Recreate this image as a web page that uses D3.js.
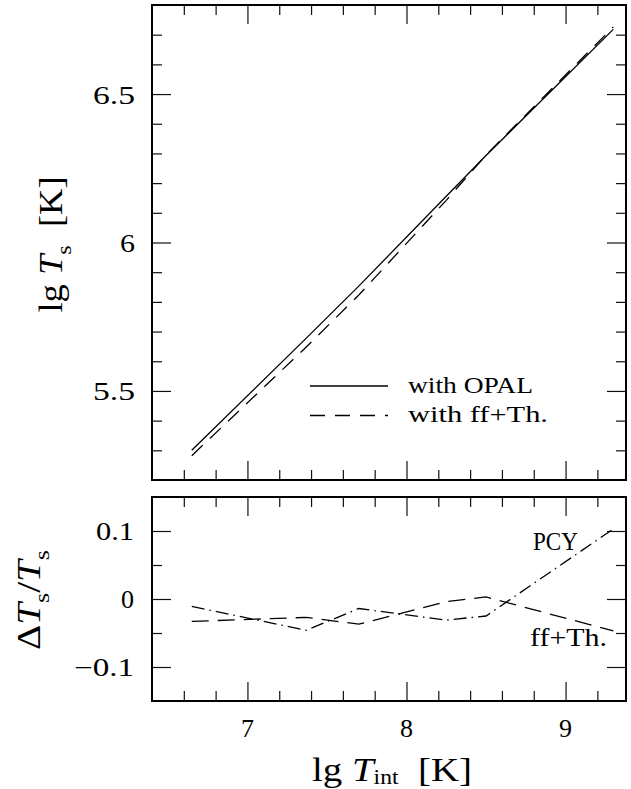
<!DOCTYPE html>
<html>
<head>
<meta charset="utf-8">
<script src="https://cdn.jsdelivr.net/npm/d3@7"></script>
<style>
  body { margin: 0; background: #fff; }
  svg { display: block; }
  text { font-family: "Liberation Serif", "Times New Roman", serif; fill: #000; }
</style>
</head>
<body>
<svg id="chart" width="631" height="789"></svg>
<script>
// lg T_int grid shared by all curves
const lgTint = [6.65, 7.37, 7.7, 8.25, 8.5, 9.3];
// surface temperature, lg T_s [K]
const lgTsOPAL = [5.300, 5.678, 5.853, 6.156, 6.293, 6.718];
const lgTsFfTh = [5.282, 5.648, 5.823, 6.142, 6.295, 6.726];
// relative deviations Delta T_s / T_s
const relPCY  = [-0.011, -0.046, -0.014, -0.031, -0.025, 0.103];
const relFfTh = [-0.033, -0.027, -0.037, -0.004, 0.003, -0.047];

// axis ticks and labels
const xMajor = [7, 8, 9];
const xMinor = d3.range(33, 47).map(i => i / 5).filter(v => !Number.isInteger(v));
const xTickLabels = ["7", "8", "9"];
const topMajor = [5.5, 6, 6.5];
const topMinor = d3.range(53, 68).filter(i => i % 5 !== 0).map(i => i / 10);
const topTickLabels = ["5.5", "6", "6.5"];
const botMajor = [-0.1, 0, 0.1];
const botMinor = [-0.05, 0.05];
const botTickLabels = ["\u22120.1", "0", "0.1"];

const svg = d3.select("#chart");

const x = d3.scaleLinear().domain([6.4, 9.38]).range([152, 626]);
const yTop = d3.scaleLinear().domain([5.2, 6.8]).range([480, 5]);
const yBot = d3.scaleLinear().domain([-0.15, 0.15]).range([701, 497]);

const MAJOR = 19, MINOR = 10;

// inward ticks along the top and bottom edges of a panel
function frameTicks(y) {
  const [y0, y1] = y.range();          // bottom, top pixel
  const g = svg.append("g");
  [[xMajor, MAJOR], [xMinor, MINOR]].forEach(([vals, len]) => {
    g.append("g").attr("transform", `translate(0,${y0})`)
      .call(d3.axisBottom(x).tickValues(vals).tickSize(-len).tickFormat(""));
    g.append("g").attr("transform", `translate(0,${y1})`)
      .call(d3.axisTop(x).tickValues(vals).tickSize(-len).tickFormat(""));
  });
  return g;
}
// inward ticks along the left and right edges of a panel
function sideTicks(y, major, minor) {
  const g = svg.append("g");
  const [x0, x1] = x.range();
  [[major, MAJOR], [minor, MINOR]].forEach(([vals, len]) => {
    g.append("g").attr("transform", `translate(${x0},0)`)
      .call(d3.axisLeft(y).tickValues(vals).tickSize(-len).tickFormat(""));
    g.append("g").attr("transform", `translate(${x1},0)`)
      .call(d3.axisRight(y).tickValues(vals).tickSize(-len).tickFormat(""));
  });
  return g;
}

function panel(y, major, minor) {
  const g1 = frameTicks(y);
  const g2 = sideTicks(y, major, minor);
  [g1, g2].forEach(g => {
    g.selectAll(".domain").remove();
    g.selectAll(".tick line").attr("stroke", "#111").attr("stroke-width", 1.2);
  });
  const [y0, y1] = y.range();
  const [x0, x1] = x.range();
  svg.append("rect")
    .attr("x", x0).attr("y", y1).attr("width", x1 - x0).attr("height", y0 - y1)
    .attr("fill", "none").attr("stroke", "#000").attr("stroke-width", 2);
}

panel(yTop, topMajor, topMinor);
panel(yBot, botMajor, botMinor);

// curves
function curve(y, vals, dash) {
  const line = d3.line().x((d, i) => x(lgTint[i])).y(d => y(d));
  svg.append("path").datum(vals)
    .attr("d", line)
    .attr("fill", "none").attr("stroke", "#000").attr("stroke-width", 1.3)
    .attr("stroke-dasharray", dash);
}
curve(yTop, lgTsOPAL, null);
curve(yTop, lgTsFfTh, "15,10");
curve(yBot, relPCY, "13,5,1.5,5");
curve(yBot, relFfTh, "17,9");

// plain text with a fixed drawn width
function txt(xp, yp, s, size, width, anchorRight) {
  const t = svg.append("text")
    .attr("x", anchorRight ? xp - width : xp).attr("y", yp)
    .attr("font-size", size).text(s);
  if (width) t.attr("textLength", width).attr("lengthAdjust", "spacingAndGlyphs");
  return t;
}

// y tick labels
const topW = [42, 15, 42];
topMajor.forEach((v, i) => txt(135, yTop(v) + 9.5, topTickLabels[i], 25, topW[i], true));
const botW = [60, 13, 38];
botMajor.forEach((v, i) => txt(134, yBot(v) + 9, botTickLabels[i], 25, botW[i], true));

// x tick labels
xMajor.forEach((v, i) =>
  svg.append("text").attr("x", x(v)).attr("y", 737).attr("font-size", 26)
    .attr("text-anchor", "middle").text(xTickLabels[i]));

// legend
const legX0 = 310, legX1 = 388;
svg.append("line").attr("x1", legX0).attr("x2", legX1).attr("y1", 386).attr("y2", 386)
  .attr("stroke", "#000").attr("stroke-width", 1.3);
svg.append("line").attr("x1", legX0).attr("x2", legX1).attr("y1", 415.5).attr("y2", 415.5)
  .attr("stroke", "#000").attr("stroke-width", 1.3).attr("stroke-dasharray", "15,10");
txt(408, 393, "with OPAL", 23, 125);
txt(408, 422, "with ff+Th.", 23, 140);

// curve labels in the lower panel
txt(533, 550, "PCY", 25, 45);
txt(530, 646, "ff+Th.", 25, 77);

// axis titles
function title(parent, parts, size, width) {
  const t = parent.append("text").attr("font-size", size)
    .attr("textLength", width).attr("lengthAdjust", "spacingAndGlyphs");
  parts.forEach(p => {
    const s = t.append("tspan").text(p.t);
    if (p.italic) s.attr("font-style", "italic");
    if (p.size) s.attr("font-size", p.size);
    if (p.dy) s.attr("dy", p.dy);
  });
  return t;
}

// x axis title
const xt = title(svg, [
  { t: "lg\u00A0" },
  { t: "T", italic: true },
  { t: "int", size: 20, dy: 3 },
  { t: "\u00A0\u00A0[K]", dy: -3 }
], 33, 160);
xt.attr("x", 312).attr("y", 781);

// upper panel y title
const gy1 = svg.append("g").attr("transform", "translate(62,244.5) rotate(-90)");
title(gy1, [
  { t: "lg\u00A0" },
  { t: "T", italic: true },
  { t: "s", size: 22, dy: 9 },
  { t: "\u00A0\u00A0[K]", dy: -9 }
], 33, 136).attr("x", -68);

// lower panel y title
const gy2 = svg.append("g").attr("transform", "translate(40,600) rotate(-90)");
title(gy2, [
  { t: "\u0394" },
  { t: "T", italic: true },
  { t: "s", size: 22, dy: 9 },
  { t: "/", dy: -9 },
  { t: "T", italic: true },
  { t: "s", size: 22, dy: 9 }
], 33, 100).attr("x", -50);
</script>
</body>
</html>
